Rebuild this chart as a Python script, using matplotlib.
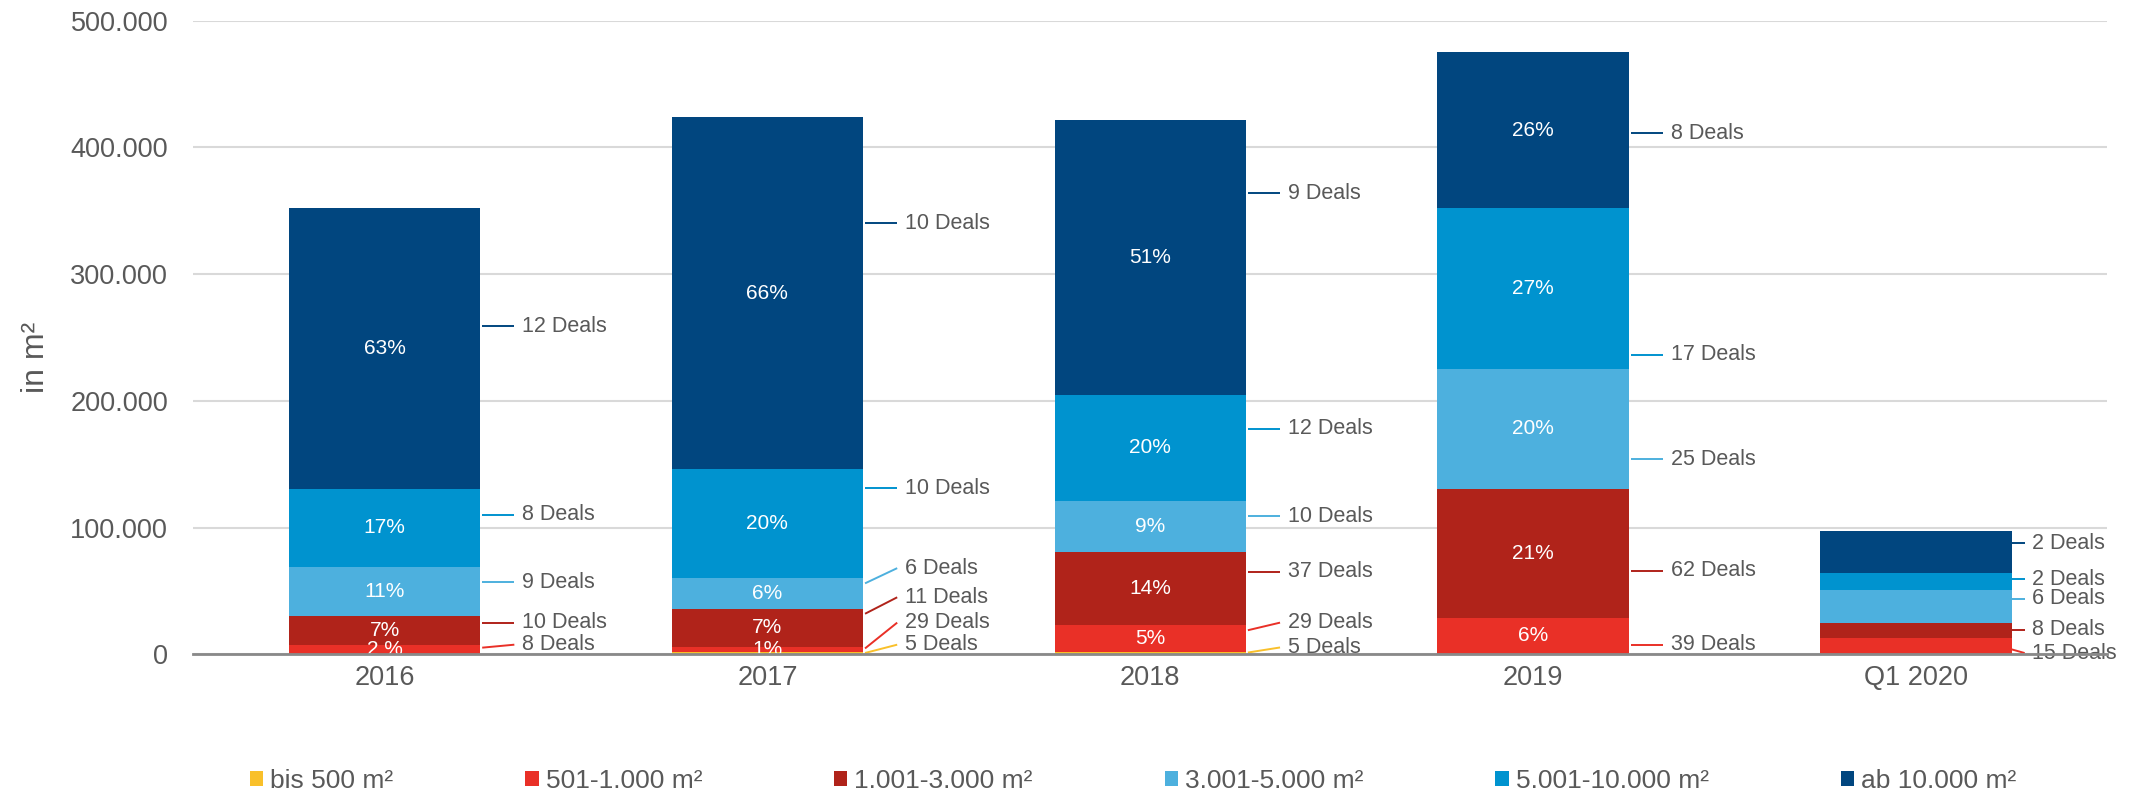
import matplotlib
matplotlib.use("Agg")
import matplotlib.pyplot as plt
import numpy as np

plt.rcParams['font.family'] = ['Liberation Sans', 'DejaVu Sans']

# ---------------- data ----------------
categories = ['2016', '2017', '2018', '2019', 'Q1 2020']
series_names = ['bis 500 m²', '501-1.000 m²', '1.001-3.000 m²',
                '3.001-5.000 m²', '5.001-10.000 m²', 'ab 10.000 m²']

bis500 = [0, 1500, 2000, 0, 0]
s501 = [7500, 4500, 21000, 29000, 13000]
s1001 = [22500, 30000, 58000, 101500, 12000]
s3001 = [39000, 24000, 40000, 95000, 26000]
s5001 = [61500, 86000, 84000, 126500, 13000]
ab10000 = [221500, 278000, 217000, 123000, 33500]

deals_bis500 = [None, 5, 5, None, None]
deals_501 = [8, 29, 29, 39, 15]
deals_1001 = [10, 11, 37, 62, 8]
deals_3001 = [9, 6, 10, 25, 6]
deals_5001 = [8, 10, 12, 17, 2]
deals_ab = [12, 10, 9, 8, 2]

pct_bis500 = [None, None, None, None, None]
pct_501 = ['2 %', '1%', '5%', '6%', None]
pct_1001 = ['7%', '7%', '14%', '21%', None]
pct_3001 = ['11%', '6%', '9%', '20%', None]
pct_5001 = ['17%', '20%', '20%', '27%', None]
pct_ab = ['63%', '66%', '51%', '26%', None]

# label layout (vertical position of the "Deals" annotations)
lab_bis500 = [None, 7600, 5400, None, None]
lab_501 = [7600, 25000, 25000, 7600, 1000]
lab_1001 = [25000, 45000, 65000, 66000, 19400]
lab_3001 = [57000, 68000, 109000, 154000, 44000]
lab_5001 = [110000, 131000, 178000, 236500, 59400]
lab_ab = [259000, 340000, 364000, 411000, 87500]

colors = ['#F9C02A', '#E93027', '#B0231A', '#4DB0DE', '#0093CF', '#01467F']

values = [bis500, s501, s1001, s3001, s5001, ab10000]
deals = [deals_bis500, deals_501, deals_1001, deals_3001, deals_5001, deals_ab]
pcts = [pct_bis500, pct_501, pct_1001, pct_3001, pct_5001, pct_ab]
labs = [lab_bis500, lab_501, lab_1001, lab_3001, lab_5001, lab_ab]

# ---------------- figure ----------------
fig = plt.figure(figsize=(21.46, 7.96), dpi=100)
ax = fig.add_axes([0.09, 0.178, 0.892, 0.796])

x = np.arange(len(categories))
width = 0.5
text_col = '#595959'

bottom = np.zeros(len(categories))
for vals, col, name in zip(values, colors, series_names):
    ax.bar(x, vals, width, bottom=bottom, color=col, label=name,
           edgecolor='none', zorder=3)
    bottom += np.array(vals)

# percentage labels and deal annotations
n = len(categories)
bottom = np.zeros(n)
for vals, col, dl, pc, lb in zip(values, colors, deals, pcts, labs):
    for i in range(n):
        v = vals[i]
        b0 = bottom[i]
        if pc[i] is not None:
            ax.text(x[i], b0 + v / 2, pc[i], ha='center', va='center',
                    color='white', fontsize=15, zorder=5)
        if dl[i] is not None:
            ly = lb[i]
            inset = min(4000, 0.3 * v)
            sy = min(max(ly, b0 + inset), b0 + v - inset)
            last = (i == n - 1)
            x0 = x[i] + width / 2 + (0.0 if last else 0.005)
            x1 = x[i] + width / 2 + (0.034 if last else 0.089)
            xt = x[i] + width / 2 + (0.053 if last else 0.110)
            ax.plot([x0, x1], [sy, ly], color=col, lw=1.4, zorder=4,
                    solid_capstyle='butt', clip_on=False)
            ax.text(xt, ly, f'{dl[i]} Deals',
                    ha='left', va='center', color=text_col, fontsize=15.5,
                    zorder=5)
    bottom += np.array(vals)

ax.set_xlim(-0.5, n - 0.5)
ax.set_ylim(0, 500000)
yt = np.arange(0, 500001, 100000)
ax.set_yticks(yt)
ax.set_yticklabels([f'{int(t):,}'.replace(',', '.') for t in yt])
ax.set_xticks(x)
ax.set_xticklabels(categories)
ax.tick_params(axis='both', length=0, labelsize=19.5, colors=text_col)
ax.tick_params(axis='x', pad=8)
ax.tick_params(axis='y', pad=18)

ax.yaxis.grid(True, color='#D9D9D9', lw=1.5, zorder=0)
ax.set_axisbelow(True)
for s in ['top', 'right', 'left']:
    ax.spines[s].set_visible(False)
ax.spines['bottom'].set_color('#898989')
ax.spines['bottom'].set_linewidth(2)
ax.spines['bottom'].set_zorder(6)

fig.text(0.017, 0.551, 'in m²', rotation=90, ha='center', va='center',
         fontsize=23, color=text_col)

handles, labels_ = ax.get_legend_handles_labels()
fig.legend(handles, labels_, loc='center', bbox_to_anchor=(0.528, 0.019),
           ncol=6, frameon=False, fontsize=19, handlelength=0.5,
           handleheight=0.55, handletextpad=0.27, columnspacing=5.0,
           labelcolor=text_col, borderpad=0.1)

fig.savefig('out.png', dpi=100)
